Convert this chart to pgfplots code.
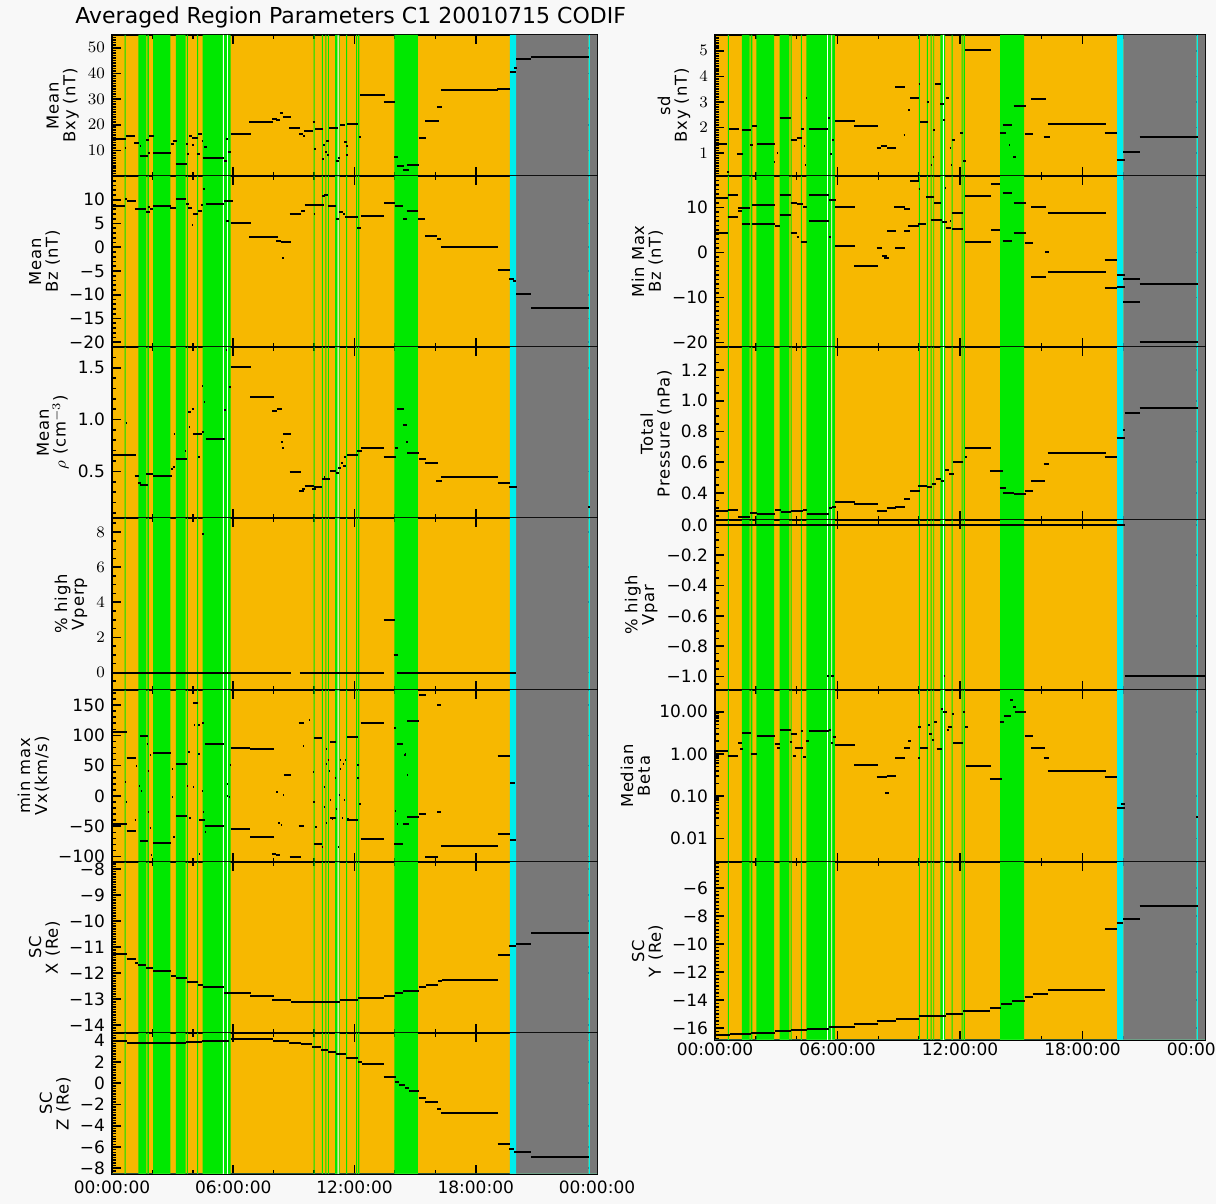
\documentclass[border=0pt]{standalone}
\usepackage{fontspec}
\setmainfont{DejaVu Sans}
\usepackage{pgfplots}
\usepackage{pgfplotstable}
\pgfplotsset{compat=1.18}
\definecolor{corange}{RGB}{247,184,0}
\definecolor{cgreen}{RGB}{0,232,0}
\definecolor{ccyan}{RGB}{0,238,238}
\definecolor{cgray}{RGB}{120,120,120}
\definecolor{pagebg}{RGB}{248,248,248}

\newcommand\tickfont{\fontsize{8.5}{9}\selectfont}
\newcommand\labfont{\fontsize{8.2}{8.4}\selectfont\addfontfeatures{LetterSpace=5}}

\pgfplotsset{
  panel/.style={
    scale only axis, xmin=0, xmax=24,
    xtick={0,6,12,18,24}, minor xtick={2,4,8,10,14,16,20,22},
    xticklabels={},
    tick align=inside, xtick pos=both, ytick pos=both, yticklabel pos=left,
    major tick length=4.5pt, minor tick length=2.2pt,
    tick style={black, line width=0.8pt},
    axis line style={line width=1pt},
    axis background/.style={fill=corange},
    ticklabel style={font=\tickfont},
    ylabel style={align=center, font=\labfont, inner sep=1pt},
  },
  lastpanel/.style={xticklabels={00:00:00,06:00:00,12:00:00,18:00:00,00:00:00}},
  seg/.style={draw=none, mark=none, forget plot,
    error bars/.cd, x dir=plus, x explicit, error mark=none,
    error bar style={line width=1pt, black}},
}
\newcommand\segs[1]{\addplot[seg] table[x=a, y=v, x error expr=\thisrow{b}-\thisrow{a}] {#1};}
\newcommand\bands[2]{%
  \addplot[const plot, draw=none, fill=cgray, forget plot] table[x=t, y expr={\thisrow{g}*((#2)-(#1))+(#1)}] {\graytab};
  \addplot[const plot, draw=none, fill=ccyan, forget plot] table[x=t, y expr={\thisrow{g}*((#2)-(#1))+(#1)}] {\cyantab};
  \addplot[const plot, draw=none, fill=cgreen, forget plot] table[x=t, y expr={\thisrow{g}*((#2)-(#1))+(#1)}] {\greentab};
  \addplot[const plot, draw=none, fill=white, forget plot] table[x=t, y expr={\thisrow{g}*((#2)-(#1))+(#1)}] {\whitetab};
}

\begin{document}

% region bands (hours, 1 = band on)
\pgfplotstableread{
t g
0 0
0.63 1
0.68 0
1.31 1
1.70 0
1.75 1
1.83 0
2.03 1
2.89 0
3.16 1
3.64 0
3.70 1
3.75 0
4.21 1
4.26 0
4.48 1
5.49 0
5.53 1
5.70 0
5.74 1
5.87 0
9.98 1
10.03 0
10.38 1
10.43 0
10.56 1
10.61 0
10.69 1
10.73 0
11.04 1
11.16 0
11.21 1
11.27 0
11.59 1
11.64 0
12.08 1
12.13 0
12.18 1
12.24 0
13.97 1
15.14 0
24 0
}\greentab
\pgfplotstableread{
t g
0 0
5.49 1
5.53 0
5.70 1
5.74 0
11.16 1
11.21 0
24 0
}\whitetab
\pgfplotstableread{
t g
0 0
19.69 1
20.00 0
23.59 1
23.65 0
24 0
}\cyantab
\pgfplotstableread{
t g
0 0
20.00 1
23.59 0
23.65 1
24 0
}\graytab

% Mean Bxy
\pgfplotstableread{
a b v
0 0.68 14.5
0.63 0.70 11
0.68 1.12 15.7
1.10 1.34 13
1.37 1.42 11.5
1.37 1.78 7.8
1.70 1.83 14
1.80 1.86 9
1.83 2.08 15.7
2.03 2.94 9
2.90 3.06 12.6
3.00 3.20 13.6
3.16 3.69 4.8
3.65 3.78 12.3
3.73 3.80 8.4
3.80 3.98 15.7
3.98 4.28 14.7
3.95 4.05 12
4.20 4.35 8.4
4.28 4.46 16.5
4.43 4.50 13.5
4.55 4.68 11.3
4.48 5.54 7
5.54 5.67 6
5.62 5.74 14.3
5.74 5.87 9.5
5.87 6.86 16.2
6.79 7.98 21
7.93 8.15 22.3
8.10 8.30 22
8.31 8.48 24.5
8.45 8.86 23
8.78 9.30 18.7
9.27 9.47 16.5
9.44 9.54 15.5
9.50 9.97 17.4
9.93 10.05 21
10.02 10.10 10.5
10.05 10.43 18.2
10.40 10.50 6.6
10.46 10.56 12
10.60 10.73 13.6
10.56 10.66 9.2
10.66 10.76 8
10.76 11.16 18.7
11.06 11.22 6
11.16 11.29 7.1
11.29 11.54 19.9
11.49 11.62 13.2
11.59 11.69 11.5
11.62 12.15 20.3
11.60 11.68 8.2
12.20 12.31 15.2
12.28 13.49 31.4
13.44 13.98 28.8
13.97 14.15 7.3
14.10 14.46 3.8
14.40 14.68 2.2
14.60 15.21 4.3
15.17 15.55 14.7
15.50 16.17 21.4
16.08 16.33 27.1
16.28 19.11 33.4
19.06 19.69 34
19.69 20.00 40.5
19.90 20.04 42.2
20.00 20.74 45.7
20.74 23.60 46.4
}\Lbxy

% Mean Bz
\pgfplotstableread{
a b v
0 0.65 8.6
0.65 0.76 10.2
0.72 1.21 9.7
1.12 1.70 8.0
1.70 1.86 7.4
1.76 1.88 8.5
1.86 2.02 8
2.02 2.92 8.6
2.88 3.17 8.3
3.17 3.66 10.2
3.66 3.82 9.2
3.78 3.97 8.3
3.96 4.03 4.6
4.00 4.25 6.9
4.25 4.44 7.7
4.48 4.60 12.2
4.40 4.52 8.8
4.64 5.54 9.2
5.62 5.77 5.6
5.54 5.97 9.7
5.87 6.89 5.0
6.79 8.20 2.1
8.12 8.36 1.4
8.36 8.87 1.1
8.42 8.50 -2.2
8.79 9.37 7.0
9.37 9.57 7.6
9.53 10.47 8.9
9.98 10.06 7.0
10.41 10.55 10.7
10.50 10.70 11.1
10.70 11.10 8.6
11.06 11.25 6.0
11.25 11.45 7.4
11.45 11.53 7.0
11.53 12.17 6.3
12.13 12.30 4.0
12.30 13.48 6.6
13.48 13.99 9.4
13.99 14.42 8.6
14.42 14.58 6.0
14.58 15.15 7.6
15.15 15.50 6.0
15.50 16.09 2.3
16.09 16.28 1.8
16.28 19.08 0.1
19.08 19.70 -4.8
19.67 19.90 -6.7
19.86 20.00 -7.1
20.00 20.74 -9.8
20.74 23.60 -12.8
}\Lbz

% Mean density
\pgfplotstableread{
a b v
0 1.17 0.66
0.68 0.74 0.97
1.12 1.35 0.46
1.30 1.43 0.39
1.41 1.80 0.37
1.70 2.05 0.47
2.05 2.97 0.46
2.90 3.00 0.52
3.00 3.10 0.54
3.05 3.11 0.86
3.17 3.70 0.62
3.60 3.66 0.70
3.78 3.90 1.07
3.94 4.05 1.10
3.82 3.88 0.93
4.00 4.45 0.86
4.25 4.36 0.64
4.44 4.56 0.88
4.46 4.52 1.32
4.56 4.62 1.17
4.64 5.58 0.81
5.56 5.62 1.09
5.62 5.68 1.67
5.77 5.89 1.31
5.87 6.87 1.51
6.83 8.00 1.22
7.93 8.16 1.08
8.16 8.40 1.10
8.36 8.47 0.78
8.40 8.50 0.73
8.47 8.86 0.86
8.79 9.33 0.49
9.26 9.49 0.31
9.41 9.57 0.33
9.53 10.02 0.36
9.92 10.10 0.33
10.02 10.41 0.35
10.41 10.80 0.43
10.48 10.56 0.45
10.80 11.06 0.50
11.06 11.25 0.48
11.20 11.33 0.53
11.33 11.45 0.58
11.45 11.57 0.55
11.48 11.60 0.64
11.64 12.17 0.66
12.11 12.37 0.70
12.33 13.48 0.73
13.44 14.03 0.64
13.99 14.15 0.73
14.09 14.46 1.10
14.38 14.58 0.95
14.54 14.66 0.78
14.62 15.20 0.68
15.17 15.56 0.62
15.48 16.14 0.58
16.05 16.34 0.41
16.28 19.08 0.45
19.08 19.70 0.39
19.65 20.02 0.35
23.56 23.64 0.16
}\Lrho

% % high Vperp
\pgfplotstableread{
a b v
0 8.85 -0.03
9.28 13.48 -0.03
4.45 4.55 7.9
13.44 13.99 2.97
13.93 14.13 0.97
14.09 20.00 -0.03
}\Lvperp

% min max Vx
\pgfplotstableread{
a b v
0 0.72 106
0.72 1.21 62
1.41 1.80 99
2.05 2.92 71
3.17 3.70 53
3.76 3.84 73
4.00 4.25 154
4.27 4.34 118
4.47 4.55 120
4.60 5.54 86
4.27 4.34 69
5.87 6.83 80
6.83 8.00 77
9.24 9.49 121
9.46 9.52 82
10.02 10.41 95
10.57 10.63 77
10.67 10.73 59
10.80 11.10 89
11.27 11.33 59
11.52 11.58 60
11.64 12.17 98
12.30 13.48 121
13.97 14.05 112
14.10 14.40 86
14.46 14.54 68
14.62 15.20 123
15.17 15.52 166
16.10 16.30 150
19.08 19.70 66
19.70 19.96 22
0 0.72 -47
0.72 1.21 -58
1.12 1.18 -40
1.41 1.80 -74
1.86 1.94 -53
2.05 2.92 -78
3.17 3.70 -33
3.81 3.89 -37
4.30 4.60 -40
4.60 5.54 -49
5.87 6.83 -55
6.83 8.00 -68
7.93 8.10 -96
8.10 8.30 -98
8.79 9.33 -101
9.24 9.50 -49
10.02 10.41 -79
10.37 10.43 -85
10.57 10.63 -44
10.80 11.10 -36
11.17 11.23 -85
11.64 12.17 -39
12.30 13.48 -71
13.97 14.40 -80
14.40 14.70 -47
14.62 15.20 -35
15.17 15.56 -29
15.50 16.14 -100
16.28 19.08 -83
19.08 19.70 -62
19.70 20.00 -72
0.65 0.71 23
0.69 0.75 -10
1.18 1.24 50
1.34 1.40 17
1.44 1.50 9
1.71 1.77 86
1.77 1.83 -27
1.79 1.85 42
1.87 1.93 67
1.93 1.99 -98
2.97 3.03 45
2.97 3.03 -1
3.04 3.10 -67
3.72 3.78 17
4.02 4.08 15
4.07 4.13 117
4.45 4.51 9
4.51 4.57 -27
4.61 4.67 -60
4.31 4.37 -96
5.68 5.74 20
5.67 5.73 0
5.77 5.83 -1
5.82 5.88 51
8.13 8.19 7
8.23 8.29 -45
8.37 8.43 -48
8.47 8.53 1
8.50 8.86 35
9.34 9.40 -49
9.74 9.80 125
9.95 10.01 40
9.97 10.03 -10
10.07 10.13 -51
10.47 10.53 15
10.47 10.53 -18
10.57 10.63 53
10.72 10.78 42
10.77 10.83 -7
10.87 10.93 -38
11.02 11.08 29
11.07 11.13 -22
11.22 11.28 1
11.27 11.33 45
11.37 11.43 -36
11.42 11.48 53
11.47 11.53 -6
11.65 11.71 -38
12.14 12.20 51
12.14 12.20 29
12.24 12.30 -13
14.10 14.16 -46
14.49 14.55 69
14.59 14.65 34
14.00 14.06 -24
16.10 16.28 -27
}\Lvx

% SC X
\pgfplotstableread{
a b v
0 0.72 -11.25
0.72 1.21 -11.45
1.15 1.30 -11.6
1.30 1.70 -11.7
1.70 2.05 -11.8
2.05 2.92 -11.9
2.92 3.17 -12.1
3.17 3.70 -12.2
3.70 4.25 -12.35
4.25 4.48 -12.45
4.48 5.54 -12.52
5.54 6.87 -12.75
6.83 8.00 -12.87
7.93 8.86 -13.03
8.86 9.98 -13.1
9.98 11.30 -13.1
11.30 12.17 -13.03
12.17 13.48 -12.97
13.48 13.99 -12.88
13.99 14.42 -12.75
14.42 15.17 -12.67
15.17 15.56 -12.52
15.56 16.14 -12.45
16.14 16.34 -12.32
16.34 19.08 -12.26
19.08 19.70 -11.3
19.67 20.00 -10.97
20.00 20.74 -10.88
20.74 23.60 -10.46
}\Lscx

% SC Z
\pgfplotstableread{
a b v
0 0.72 3.97
0.72 1.21 3.8
1.21 3.66 3.75
3.66 4.44 3.9
4.44 5.80 4.0
5.87 7.96 4.15
7.96 8.75 4.0
8.75 9.33 3.8
9.33 9.92 3.65
9.92 10.35 3.4
10.35 10.70 3.1
10.70 11.10 2.95
11.10 11.58 2.75
11.58 12.17 2.4
12.17 12.37 2.0
12.37 13.48 1.77
13.44 14.03 0.6
14.00 14.19 0.14
14.19 14.52 -0.17
14.52 14.72 -0.48
14.72 15.20 -0.7
15.17 15.56 -1.42
15.50 16.14 -1.8
16.09 16.28 -2.45
16.28 19.08 -2.77
19.08 19.70 -5.75
19.67 19.90 -6.22
19.90 20.74 -6.44
20.74 23.60 -6.97
}\Lscz

% sd Bxy
\pgfplotstableread{
a b v
0 0.60 1.37
0.68 1.17 1.95
0.60 0.68 0.25
1.07 1.37 0.95
1.33 1.76 1.9
1.72 1.85 1.3
1.83 2.07 2.05
2.07 2.93 1.37
2.87 2.93 0.65
3.03 3.09 1.0
3.16 3.70 2.37
3.70 4.00 1.5
4.00 4.25 1.6
4.22 4.35 1.94
4.47 4.53 3.15
4.37 4.43 1.26
4.42 4.48 0.52
4.59 5.52 1.92
5.55 5.61 2.37
5.65 5.71 0.95
5.75 5.81 1.52
5.90 6.87 2.25
6.83 8.00 2.05
7.92 8.12 1.2
8.12 8.40 1.26
8.43 8.88 1.2
8.82 9.33 3.6
9.24 9.30 1.7
9.47 9.53 2.67
9.56 9.99 3.15
9.97 10.03 3.72
10.05 10.44 2.2
10.40 10.50 3.0
10.57 10.63 0.52
10.70 10.76 1.9
10.67 10.73 0.85
10.78 11.08 3.72
11.03 11.22 2.93
11.17 11.27 2.3
11.33 11.47 3.15
11.49 11.55 1.2
11.57 11.63 0.52
11.63 11.74 1.52
12.00 12.14 1.78
12.14 12.30 0.68
12.26 13.54 5.03
13.95 14.25 1.78
14.09 14.54 2.08
14.41 14.47 1.3
14.60 14.75 0.85
14.63 15.22 2.83
15.18 15.57 1.73
15.50 16.20 3.1
16.10 16.40 1.62
16.29 19.16 2.15
19.08 19.70 1.78
19.67 20.06 0.74
20.00 20.80 1.04
20.80 23.65 1.62
}\Rsd

% Min Max Bz
\pgfplotstableread{
a b v
0 0.62 12.1
0.62 1.13 12.8
1.13 1.72 9.9
1.83 2.93 10.5
3.16 3.70 12.8
3.70 4.00 11.1
4.00 4.30 10.7
4.30 4.50 10
4.59 5.56 12.8
5.56 5.95 11.6
5.90 6.87 10.2
8.78 9.33 10.2
9.27 9.56 9.6
9.56 9.99 15.9
9.97 10.05 14
10.34 10.73 12.4
10.73 11.08 11
11.27 11.33 14.4
11.52 11.58 7
11.63 12.14 8.7
12.26 13.54 12.6
13.54 13.95 15.2
14.09 14.54 13.3
14.63 15.22 11.0
15.50 16.20 10.1
16.29 19.16 8.7
19.08 19.70 -1.7
19.70 20.06 -5
20.00 20.80 -5.9
20.80 23.65 -6.9
0 0.62 4.4
0.62 1.13 7.8
1.13 1.33 9.3
1.33 1.72 6.3
1.83 2.93 6.3
2.93 3.16 5.9
3.16 3.70 8.4
3.70 4.00 4.4
4.00 4.10 3.5
4.20 4.50 2.4
4.59 5.56 6.9
5.56 5.70 3.5
5.90 6.87 1.5
6.83 8.00 -3.0
7.92 8.20 0.96
8.20 8.41 -0.7
8.30 8.50 -1.3
8.43 8.88 4.7
8.82 9.33 1.0
9.27 9.56 4.7
9.46 9.99 5.9
9.95 10.34 6.4
10.60 11.10 7.2
11.10 11.35 6.7
11.30 11.55 5.4
11.63 12.14 5.2
12.26 13.54 2.4
13.54 13.95 5.0
14.09 14.54 2.6
14.63 15.22 4.4
15.18 15.57 2.0
15.50 16.20 -5.4
16.16 16.36 0
16.29 19.16 -4.4
19.08 19.70 -7.9
19.70 20.06 -7.6
20.00 20.80 -11
20.80 23.65 -19.8
}\Rbz

% Total pressure
\pgfplotstableread{
a b v
0 0.62 0.28
0.62 1.13 0.29
1.13 1.72 0.245
1.72 2.05 0.27
2.05 2.93 0.265
2.93 3.22 0.285
3.22 3.70 0.275
3.70 4.30 0.28
4.30 4.50 0.29
4.50 5.56 0.265
5.60 5.75 0.30
5.75 5.95 0.31
5.90 6.87 0.34
6.83 8.00 0.325
7.92 8.40 0.28
8.40 8.88 0.30
8.82 9.33 0.31
9.27 9.56 0.36
9.56 10.05 0.41
9.95 10.38 0.445
10.40 10.63 0.44
10.63 10.83 0.46
10.83 11.08 0.49
11.08 11.22 0.48
11.28 11.47 0.55
11.47 11.70 0.52
11.67 12.14 0.6
12.24 12.34 0.635
12.26 13.54 0.695
13.46 14.09 0.54
13.95 14.25 0.43
14.09 14.63 0.40
14.63 15.22 0.39
15.18 15.57 0.415
15.50 16.16 0.48
16.10 16.35 0.585
16.29 19.16 0.66
19.08 19.70 0.635
19.67 20.06 0.755
19.96 20.06 0.81
20.06 20.80 0.92
20.80 23.65 0.955
}\Rpt

% % high Vpar
\pgfplotstableread{
a b v
0 20.06 0.0
5.50 5.60 -1.0
5.70 5.85 -1.0
11.20 11.28 -1.0
20.06 24 -1.0
}\Rvpar

% Median beta
\pgfplotstableread{
a b v
0 0.62 1.18
0.62 1.13 0.89
1.13 1.30 1.8
1.22 1.38 1.3
1.33 1.76 3.2
1.76 1.90 1.0
1.83 2.07 0.98
2.07 2.93 2.7
2.93 3.16 1.7
3.05 3.16 1.4
3.16 3.70 3.7
3.70 4.00 3.0
3.66 3.78 1.9
3.82 3.98 0.9
3.90 4.10 1.4
4.02 4.30 1.4
4.20 4.33 3.4
4.33 4.45 0.85
4.45 4.59 2.0
4.59 5.56 3.4
5.56 5.66 3.7
5.66 5.78 1.8
5.76 5.95 2.5
5.90 6.87 1.6
6.83 8.00 0.55
7.92 8.40 0.28
8.40 8.88 0.30
8.35 8.50 0.12
8.82 9.33 0.78
9.27 9.56 1.35
9.46 9.58 2.0
9.95 10.07 4.4
9.95 10.05 0.8
10.05 10.44 1.35
10.44 10.54 4.8
10.50 10.62 3.0
10.62 10.73 2.1
10.73 10.85 5.6
10.85 11.12 1.3
11.07 11.19 11.8
11.19 11.35 10
11.35 11.47 3.7
11.43 11.63 4.3
11.61 11.71 8.8
11.67 12.14 1.8
12.14 12.26 10
12.26 12.38 4.4
12.30 13.54 0.52
13.46 14.05 0.25
13.95 14.15 5.6
14.15 14.50 8.0
14.45 14.60 18.8
14.60 14.72 12.6
14.67 15.22 10
15.18 15.57 2.65
15.50 16.16 1.4
16.10 16.35 0.78
16.29 19.16 0.39
19.08 19.70 0.28
19.67 20.06 0.053
19.90 20.06 0.066
23.56 23.66 0.0325
}\Rbeta

% SC Y
\pgfplotstableread{
a b v
0 0.72 -16.5
0.72 1.75 -16.45
1.75 2.92 -16.35
2.92 3.70 -16.25
3.70 4.50 -16.15
4.50 5.56 -16.05
5.56 6.87 -15.9
6.83 8.00 -15.7
7.93 8.86 -15.5
8.86 9.98 -15.35
9.98 11.30 -15.15
11.30 12.17 -15.0
12.17 13.48 -14.8
13.48 14.00 -14.55
14.00 14.55 -14.3
14.55 15.20 -14.1
15.17 15.56 -13.8
15.56 16.30 -13.55
16.30 19.10 -13.3
19.08 19.70 -8.9
19.67 20.00 -8.5
20.00 20.80 -8.2
20.80 23.65 -7.3
}\Rscy

\begin{tikzpicture}
\fill[pagebg] (0,0) rectangle (608pt,602pt);
\path[use as bounding box] (0,0) rectangle (608pt,602pt);
\node[anchor=west, inner sep=0pt, font=\fontsize{11}{12}\selectfont] at (37.5pt,593.5pt) {Averaged Region Parameters C1 20010715 CODIF};

% ---------------- left column ----------------
\begin{axis}[panel, at={(56pt,584.5pt)}, anchor=north west, width=242.5pt, height=70.5pt,
  ymin=0, ymax=55, ytick={10,20,30,40,50}, minor ytick={0,1,...,55},
  ylabel={Mean\\Bxy (nT)}]
\bands{0}{55}
\segs{\Lbxy}
\end{axis}

\begin{axis}[panel, at={(56pt,514pt)}, anchor=north west, width=242.5pt, height=85.5pt,
  ymin=-21, ymax=15, ytick={-20,-15,-10,-5,0,5,10},
  yticklabels={−20,−15,−10,−5,0,5,10}, minor ytick={-21,-20,...,15},
  ylabel={Mean\\Bz (nT)}]
\bands{-21}{15}
\segs{\Lbz}
\end{axis}

\begin{axis}[panel, at={(56pt,428.5pt)}, anchor=north west, width=242.5pt, height=85.5pt,
  ymin=0.05, ymax=1.7, ytick={0.5,1.0,1.5}, yticklabels={0.5,1.0,1.5},
  minor ytick={0.1,0.2,...,1.7},
  ylabel={Mean\\$\rho$ (cm$^{-3}$)}]
\bands{0.05}{1.7}
\segs{\Lrho}
\end{axis}

\begin{axis}[panel, at={(56pt,343pt)}, anchor=north west, width=242.5pt, height=86pt,
  ymin=-1, ymax=8.8, ytick={0,2,4,6,8}, minor ytick={-1,-0.5,...,8.5},
  ylabel={\% high\\Vperp}]
\bands{-1}{8.8}
\segs{\Lvperp}
\end{axis}

\begin{axis}[panel, at={(56pt,257pt)}, anchor=north west, width=242.5pt, height=86pt,
  ymin=-109, ymax=175, ytick={-100,-50,0,50,100,150},
  yticklabels={−100,−50,0,50,100,150}, minor ytick={-100,-90,...,170},
  ylabel={min max\\Vx(km/s)}]
\bands{-109}{175}
\segs{\Lvx}
\end{axis}

\begin{axis}[panel, at={(56pt,171pt)}, anchor=north west, width=242.5pt, height=85.5pt,
  ymin=-14.3, ymax=-7.73, ytick={-14,-13,...,-8},
  yticklabels={−14,−13,−12,−11,−10,−9,−8}, minor ytick={-14.2,-14.1,...,-7.8},
  ylabel={SC\\X (Re)}]
\bands{-14.3}{-7.73}
\segs{\Lscx}
\end{axis}

\begin{axis}[panel, lastpanel, at={(56pt,85.5pt)}, anchor=north west, width=242.5pt, height=70.5pt,
  ymin=-8.54, ymax=4.72, ytick={-8,-6,...,4},
  yticklabels={−8,−6,−4,−2,0,2,4}, minor ytick={-8.5,-8.25,...,4.5},
  ylabel={SC\\Z (Re)}]
\bands{-8.54}{4.72}
\segs{\Lscz}
\end{axis}

% ---------------- right column ----------------
\begin{axis}[panel, at={(357.5pt,584.5pt)}, anchor=north west, width=245pt, height=70.5pt,
  ymin=0.1, ymax=5.62, ytick={1,2,3,4,5}, minor ytick={0.2,0.3,...,5.6},
  ylabel={sd\\Bxy (nT)}]
\bands{0.1}{5.62}
\segs{\Rsd}
\end{axis}

\begin{axis}[panel, at={(357.5pt,514pt)}, anchor=north west, width=245pt, height=85.5pt,
  ymin=-21, ymax=17, ytick={-20,-10,0,10}, yticklabels={−20,−10,0,10},
  minor ytick={-21,-20,...,17},
  ylabel={Min Max\\Bz (nT)}]
\bands{-21}{17}
\segs{\Rbz}
\end{axis}

\begin{axis}[panel, at={(357.5pt,428.5pt)}, anchor=north west, width=245pt, height=86.5pt,
  ymin=0.223, ymax=1.35, ytick={0.4,0.6,0.8,1.0,1.2}, yticklabels={0.4,0.6,0.8,1.0,1.2},
  minor ytick={0.25,0.3,...,1.35},
  ylabel={Total\\Pressure (nPa)}]
\bands{0.223}{1.35}
\segs{\Rpt}
\end{axis}

\begin{axis}[panel, at={(357.5pt,342pt)}, anchor=north west, width=245pt, height=85pt,
  ymin=-1.09, ymax=0.033, ytick={-1,-0.8,-0.6,-0.4,-0.2,0},
  yticklabels={−1.0,−0.8,−0.6,−0.4,−0.2,0.0}, minor ytick={-1.05,-1.0,...,0},
  ylabel={\% high\\Vpar}]
\bands{-1.09}{0.033}
\segs{\Rvpar}
\end{axis}

\begin{axis}[panel, ymode=log, at={(357.5pt,257pt)}, anchor=north west, width=245pt, height=86pt,
  ymin=0.00275, ymax=32.7, ytick={0.01,0.1,1,10}, yticklabels={0.01,0.10,1.00,10.00},
  ylabel={Median\\Beta}]
\bands{0.00275}{32.7}
\segs{\Rbeta}
\end{axis}

\begin{axis}[panel, lastpanel, at={(357.5pt,171pt)}, anchor=north west, width=245pt, height=89pt,
  ymin=-16.86, ymax=-4.14, ytick={-16,-14,...,-6},
  yticklabels={−16,−14,−12,−10,−8,−6}, minor ytick={-16.75,-16.5,...,-4.25},
  xticklabel style={yshift=2pt},
  ylabel={SC\\Y (Re)}]
\bands{-16.86}{-4.14}
\segs{\Rscy}
\end{axis}
\end{tikzpicture}
\end{document}
